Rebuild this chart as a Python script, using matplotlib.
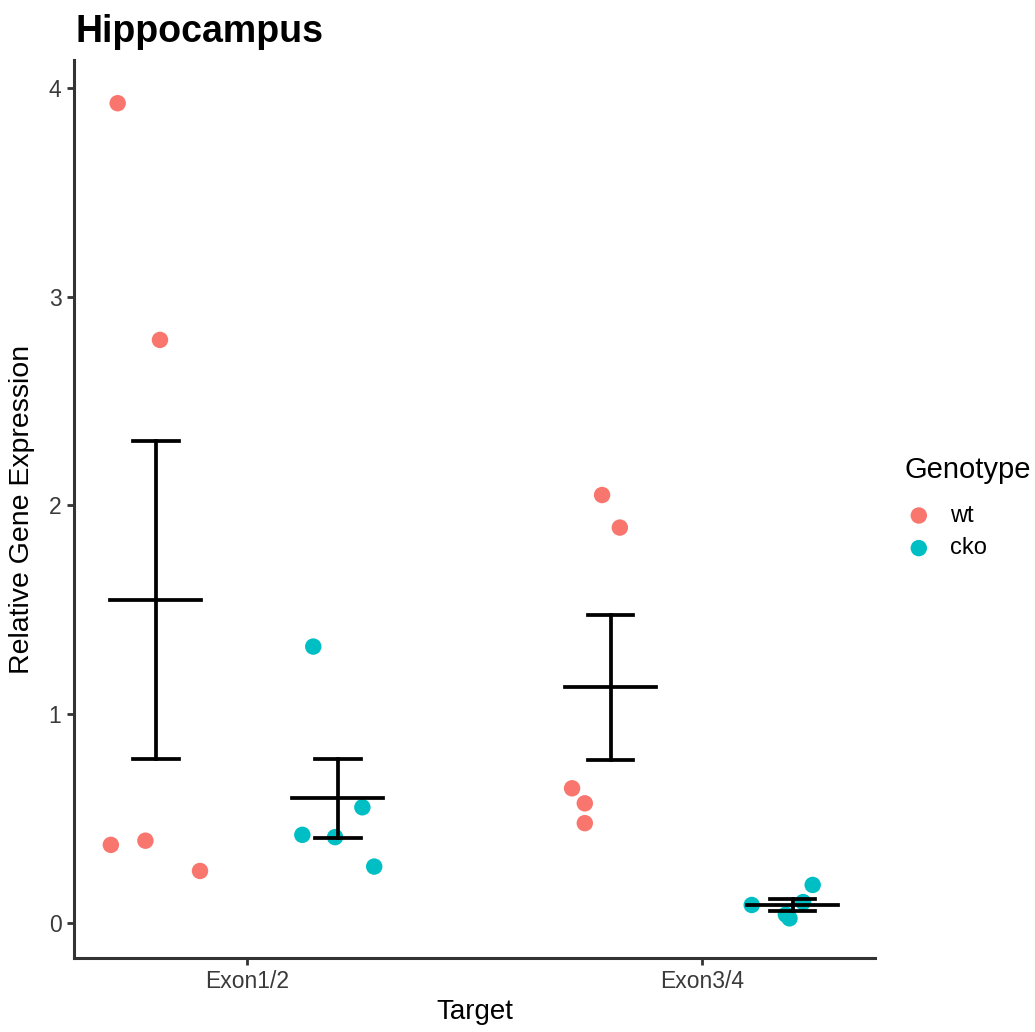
import numpy as np
import matplotlib.pyplot as plt

plt.rcParams['font.family'] = ['Liberation Sans', 'DejaVu Sans']

targets = ['Exon1/2', 'Exon3/4']
genotypes = ['wt', 'cko']
colors = {'wt': '#F8766D', 'cko': '#00BFC4'}

# jittered x positions and relative expression per (target, genotype)
x_pts = {
    ('Exon1/2', 'wt'): [0.716, 0.809, 0.701, 0.777, 0.897],
    ('Exon1/2', 'cko'): [1.146, 1.122, 1.194, 1.254, 1.280],
    ('Exon3/4', 'wt'): [1.781, 1.820, 1.715, 1.743, 1.743],
    ('Exon3/4', 'cko'): [2.110, 2.193, 2.244, 2.223, 2.185],
}
y_pts = {
    ('Exon1/2', 'wt'): [3.927, 2.793, 0.374, 0.394, 0.249],
    ('Exon1/2', 'cko'): [1.324, 0.422, 0.411, 0.554, 0.270],
    ('Exon3/4', 'wt'): [2.050, 1.894, 0.645, 0.573, 0.478],
    ('Exon3/4', 'cko'): [0.086, 0.022, 0.182, 0.100, 0.040],
}

fig = plt.figure(figsize=(10.35, 10.32), dpi=100)
ax = fig.add_axes([74 / 1035, 1 - 958 / 1032, 801 / 1035, 898 / 1032])

dodge = 0.2
for i, t in enumerate(targets):
    for j, g in enumerate(genotypes):
        xs = x_pts[(t, g)]
        ys = np.array(y_pts[(t, g)])
        ax.scatter(xs, ys, s=140, color=colors[g], edgecolors='none', zorder=2,
                   label=g if i == 0 else None)
        # mean +/- standard error
        m = ys.mean()
        se = ys.std(ddof=1) / np.sqrt(len(ys))
        cx = i + 1 + (j - 0.5) * 2 * dodge
        ax.plot([cx, cx], [m - se, m + se], color='black', lw=2.7, zorder=3)
        ax.plot([cx - 0.05, cx + 0.05], [m + se, m + se], color='black', lw=2.7, zorder=3)
        ax.plot([cx - 0.05, cx + 0.05], [m - se, m - se], color='black', lw=2.7, zorder=3)
        ax.plot([cx - 0.1, cx + 0.1], [m, m], color='black', lw=2.7, zorder=3)

ax.set_xlim(0.62, 2.381)
ax.set_ylim(-0.168, 4.134)
ax.set_xticks([1, 2])
ax.set_xticklabels(targets)
ax.set_yticks([0, 1, 2, 3, 4])

for s in ['top', 'right']:
    ax.spines[s].set_visible(False)
for s in ['left', 'bottom']:
    ax.spines[s].set_linewidth(2.2)
    ax.spines[s].set_color('#333333')
ax.tick_params(length=5, width=2, color='#333333', labelsize=16.5,
               labelcolor='#3a3a3a', pad=4)

ax.set_xlabel('Target', fontsize=20, labelpad=4)
ax.set_ylabel('Relative Gene Expression', fontsize=20.5, labelpad=10)
fig.text(75 / 1035, 1 - 42 / 1032, 'Hippocampus', fontsize=27, fontweight='bold')

# legend: title placed separately, entries below it
fig.text(905 / 1035, 1 - 470 / 1032, 'Genotype', fontsize=21, va='center')
leg = ax.legend(loc='center left', frameon=False,
                bbox_to_anchor=(907 / 1035, 1 - 532 / 1032),
                bbox_transform=fig.transFigure, fontsize=17,
                handlelength=1.0, handletextpad=0.82, labelspacing=0.45,
                borderpad=0, borderaxespad=0)

fig.savefig('out.png', dpi=100)
